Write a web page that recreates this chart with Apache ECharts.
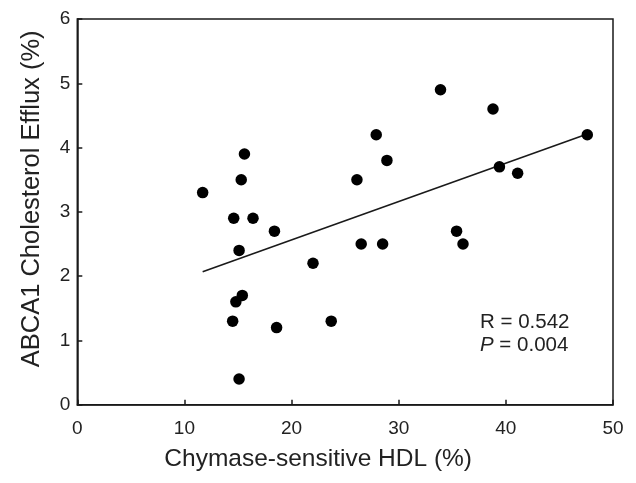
<!DOCTYPE html>
<html>
<head>
<meta charset="utf-8">
<script src="https://cdn.jsdelivr.net/npm/echarts@6/dist/echarts.min.js"></script>
<style>html,body{margin:0;padding:0;background:#fff}#c{width:636px;height:483px}</style>
</head>
<body>
<div id="c"></div>
<script>
// Chymase-sensitive HDL (%) and ABCA1 cholesterol efflux (%)
const hdlX = [11.7, 15.6, 15.3, 14.6, 16.4, 18.4, 15.1, 22.0, 15.4, 14.8, 14.5, 18.6, 23.7, 15.1,
              26.5, 28.5, 35.4, 36.0, 26.1, 27.9, 28.9, 33.9, 38.8, 39.4, 41.1, 47.6];
const effluxY = [3.3, 3.9, 3.5, 2.9, 2.9, 2.7, 2.4, 2.2, 1.7, 1.6, 1.3, 1.2, 1.3, 0.4,
                 2.5, 2.5, 2.7, 2.5, 3.5, 4.2, 3.8, 4.9, 4.6, 3.7, 3.6, 4.2];
// regression line endpoints
const fitX = [11.7, 47.6];
const fitY = [2.07, 4.21];
const xTicks = [0, 10, 20, 30, 40, 50];
const yTicks = [0, 1, 2, 3, 4, 5, 6];
const statR = 'R = 0.542';
const statP = '= 0.004';

const points = hdlX.map((x, i) => [x, effluxY[i]]);
const fit = fitX.map((x, i) => [x, fitY[i]]);

const chart = echarts.init(document.getElementById('c'));
const font = 'Liberation Sans, Arial, sans-serif';
const dark = '#1a1a1a';
chart.setOption({
  animation: false,
  backgroundColor: '#fff',
  grid: { left: 77.3, right: 23, top: 19, bottom: 78.3, show: true, borderColor: dark, borderWidth: 1.5 },
  xAxis: {
    type: 'value', min: xTicks[0], max: xTicks[xTicks.length - 1], interval: 10,
    name: 'Chymase-sensitive HDL (%)', nameLocation: 'middle', nameGap: 42,
    nameTextStyle: { fontFamily: font, fontSize: 24.5, color: '#222', padding: [0, 54, 0, 0] },
    axisLine: { lineStyle: { color: dark, width: 1.5 } },
    axisTick: { inside: true, length: 5, lineStyle: { color: dark, width: 1.5 } },
    axisLabel: { fontFamily: font, fontSize: 19, color: '#222', margin: 15 },
    splitLine: { show: false }
  },
  yAxis: {
    type: 'value', min: yTicks[0], max: yTicks[yTicks.length - 1], interval: 1,
    name: 'ABCA1 Cholesterol Efflux (%)', nameLocation: 'middle', nameGap: 32,
    nameTextStyle: { fontFamily: font, fontSize: 25.5, color: '#222', padding: [0, 0, 0, 26] },
    axisLine: { lineStyle: { color: dark, width: 1.5 } },
    axisTick: { inside: true, length: 5, lineStyle: { color: dark, width: 1.5 } },
    axisLabel: { fontFamily: font, fontSize: 19, color: '#222', margin: 7 },
    splitLine: { show: false }
  },
  series: [
    { type: 'line', data: fit, symbol: 'none', lineStyle: { color: dark, width: 1.6 }, z: 2 },
    { type: 'scatter', data: points, symbol: 'circle', symbolSize: 11.5, itemStyle: { color: '#000', opacity: 1 }, z: 3 }
  ],
  graphic: [
    { type: 'text', left: 480, top: 312, style: { text: statR, font: '20.5px ' + font, fill: '#222' } },
    { type: 'text', left: 480, top: 335, style: { text: '{i|P} ' + statP, font: '20.5px ' + font, fill: '#222',
      rich: { i: { fontStyle: 'italic', fontFamily: font, fontSize: 20.5, fill: '#222' } } } }
  ]
});
</script>
</body>
</html>
